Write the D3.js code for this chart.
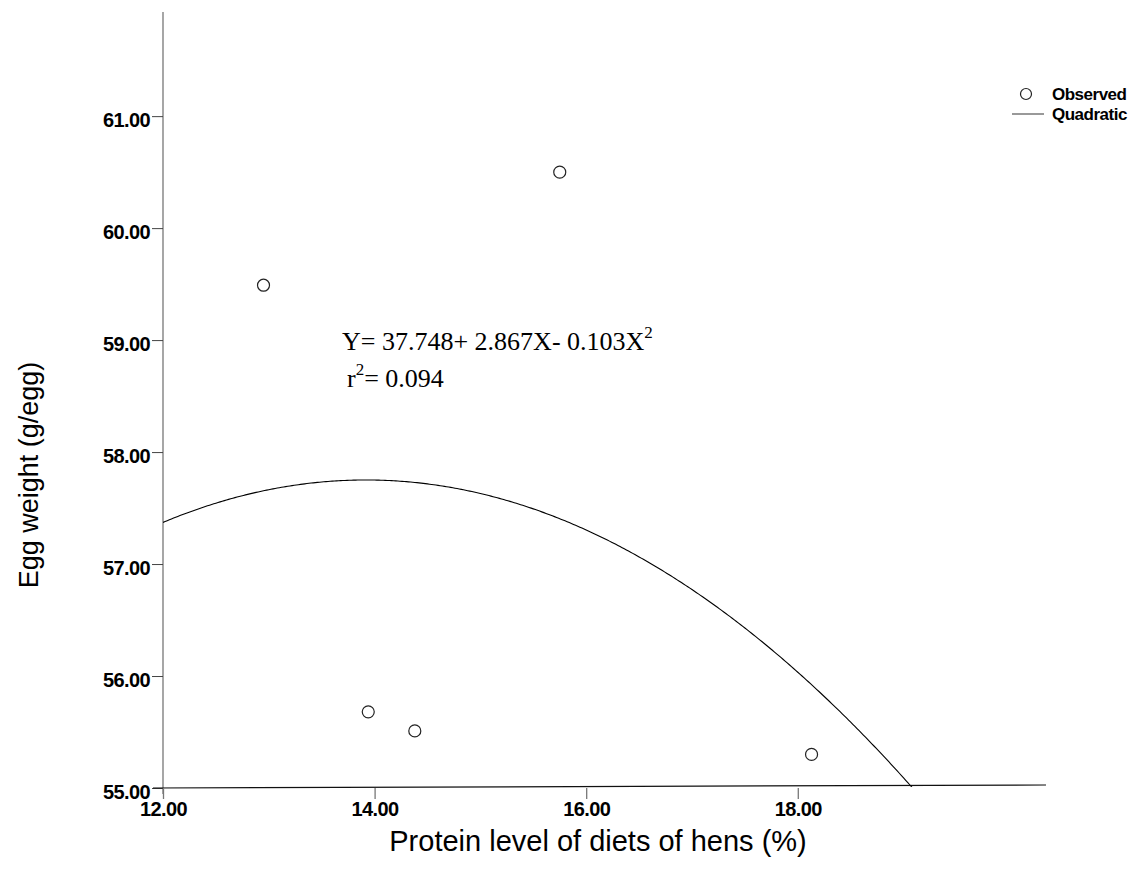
<!DOCTYPE html>
<html>
<head>
<meta charset="utf-8">
<script src="https://cdn.jsdelivr.net/npm/d3@7/dist/d3.min.js"></script>
<style>
  html, body { margin: 0; padding: 0; background: #fff; }
  svg { display: block; }
</style>
</head>
<body>
<svg id="chart" width="1146" height="886"></svg>
<script>
// ---- data ----
const proteinLevel = [12.95, 15.75, 13.94, 14.38, 18.13];   // x (%)
const eggWeight    = [59.49, 60.50, 55.68, 55.51, 55.30];   // y (g/egg)
const eqCoef       = [37.748, 2.867, 0.103];                // as printed in the equation
const curveCoef    = [37.80, 2.867, -0.103];                // curve as drawn
const r2Value      = 0.094;
const xTicks       = [12, 14, 16, 18];
const yTicks       = [55, 56, 57, 58, 59, 60, 61];
const legendLabels = ["Observed", "Quadratic"];

// ---- layout ----
const svg = d3.select("#chart");
const pLeft = 163, pRight = 1046, pTop = 12, pBottom = 788;
const x = d3.scaleLinear().domain([12, 20.346]).range([pLeft, pRight]);
const y = d3.scaleLinear().domain([55, 61.93]).range([pBottom, pTop]);

const tickFont = "'Liberation Sans', Arial, sans-serif";

// y axis
const yAxis = svg.append("g").attr("transform", `translate(${pLeft},0)`)
  .call(d3.axisLeft(y).tickValues(yTicks).tickFormat(d3.format(".2f")).tickSize(11).tickPadding(2));
yAxis.select(".domain").attr("d", `M0,${pTop}V${pBottom + 6}`).attr("stroke", "#777").attr("stroke-width", 1.3);
yAxis.selectAll(".tick line").attr("stroke", "#444").attr("stroke-width", 1);
yAxis.selectAll(".tick text")
  .attr("font-family", tickFont).attr("font-weight", "bold").attr("font-size", 20)
  .attr("letter-spacing", "-0.6").attr("fill", "#000").attr("dy", "0.5em");

// x axis
const xAxis = svg.append("g").attr("transform", `translate(0,${pBottom})`)
  .call(d3.axisBottom(x).tickValues(xTicks).tickFormat(d3.format(".2f")).tickSize(11).tickPadding(3));
xAxis.select(".domain").attr("d", `M${pLeft - 10},0L${pRight},-3`).attr("stroke", "#111").attr("stroke-width", 1.2);
xAxis.selectAll(".tick line").attr("stroke", "#777").attr("stroke-width", 1.3);
xAxis.selectAll(".tick text")
  .attr("font-family", tickFont).attr("font-weight", "bold").attr("font-size", 20)
  .attr("letter-spacing", "-0.6").attr("fill", "#000");

// clip for the fit curve
svg.append("clipPath").attr("id", "plotclip")
  .append("rect").attr("x", pLeft).attr("y", pTop).attr("width", pRight - pLeft).attr("height", pBottom - pTop - 1);

// quadratic fit curve
const fit = v => curveCoef[0] + curveCoef[1] * v + curveCoef[2] * v * v;
const xs = d3.range(12, 20.35, 0.02);
svg.append("path")
  .attr("clip-path", "url(#plotclip)")
  .attr("d", d3.line().x(d => x(d)).y(d => y(fit(d)))(xs))
  .attr("fill", "none").attr("stroke", "#000").attr("stroke-width", 1.1);

// observed points
svg.selectAll("circle.obs").data(proteinLevel).enter().append("circle")
  .attr("class", "obs")
  .attr("cx", d => x(d)).attr("cy", (d, i) => y(eggWeight[i])).attr("r", 6)
  .attr("fill", "#fff").attr("stroke", "#222").attr("stroke-width", 1.2);

// equation text
const serif = "'Liberation Serif', 'Times New Roman', serif";
const eq = svg.append("text").attr("x", 342).attr("y", 350)
  .attr("font-family", serif).attr("font-size", 26).attr("fill", "#000");
eq.append("tspan").text(`Y= ${eqCoef[0].toFixed(3)}+ ${eqCoef[1].toFixed(3)}X- ${eqCoef[2].toFixed(3)}X`);
eq.append("tspan").attr("dy", -12).attr("font-size", 17).text("2");
const r2 = svg.append("text").attr("x", 347).attr("y", 387)
  .attr("font-family", serif).attr("font-size", 26).attr("fill", "#000");
r2.append("tspan").text("r");
r2.append("tspan").attr("dy", -12).attr("font-size", 17).text("2");
r2.append("tspan").attr("dy", 12).text(`= ${r2Value.toFixed(3)}`);

// axis titles
svg.append("text")
  .attr("transform", `translate(38,475) rotate(-90)`)
  .attr("text-anchor", "middle")
  .attr("font-family", tickFont).attr("font-size", 27).attr("fill", "#000")
  .text("Egg weight (g/egg)");
svg.append("text")
  .attr("x", 598).attr("y", 851)
  .attr("text-anchor", "middle")
  .attr("font-family", tickFont).attr("font-size", 29).attr("fill", "#000")
  .text("Protein level of diets of hens (%)");

// legend
const lg = svg.append("g");
lg.append("circle").attr("cx", 1026).attr("cy", 94).attr("r", 5.5)
  .attr("fill", "#fff").attr("stroke", "#222").attr("stroke-width", 1.2);
lg.append("line").attr("x1", 1012).attr("x2", 1044).attr("y1", 114).attr("y2", 114)
  .attr("stroke", "#555").attr("stroke-width", 1.2);
lg.selectAll("text").data(legendLabels).enter().append("text")
  .attr("x", 1052).attr("y", (d, i) => 100 + i * 20)
  .attr("font-family", tickFont).attr("font-weight", "bold").attr("font-size", 17)
  .attr("letter-spacing", "-0.5").attr("fill", "#000")
  .text(d => d);
</script>
</body>
</html>
